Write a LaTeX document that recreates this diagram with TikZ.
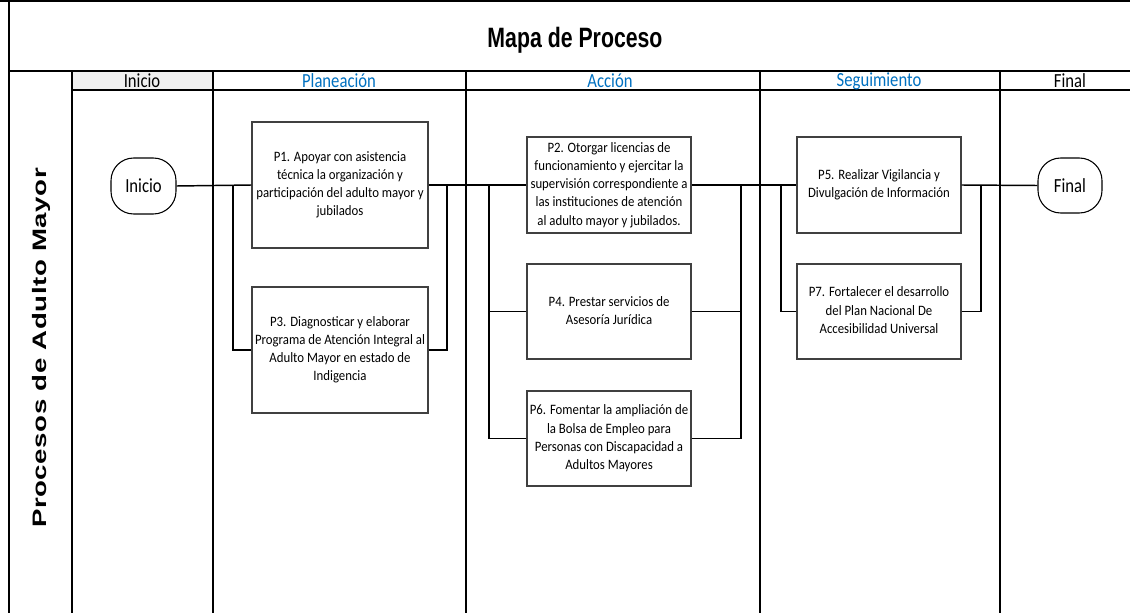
\documentclass[tikz,border=0pt]{standalone}
\usepackage{fontspec}
\setmainfont{Carlito}
\newfontfamily\arialfont{Liberation Sans}
\newfontfamily\arialbls[LetterSpace=2]{Liberation Sans Bold}
\usepackage{graphicx}
\definecolor{hdrblue}{HTML}{0070C0}
\newcommand{\vtxt}[1]{\scalebox{1}[1.12]{\fontsize{9.6}{12.2}\selectfont\begin{tabular}{@{}c@{}}#1\end{tabular}}}
\newcommand{\htxt}[1]{\scalebox{1}[1.2]{\fontsize{12.5}{14}\selectfont #1}}
\tikzset{
  lane/.style={line width=1pt, black},
  procbox/.style={draw=black!75, line width=0.8pt, fill=white, inner sep=0pt, align=center},
  term/.style={draw=black, line width=0.8pt, fill=white, rounded corners=17pt, inner sep=0pt},
  conn/.style={line width=1.1pt, black},
  hdr/.style={inner sep=0pt, anchor=center}
}
\begin{document}
\begin{tikzpicture}[x=0.75pt,y=-0.75pt]
\useasboundingbox (0,0) rectangle (1130,613);
% frame
\fill[gray!12] (72,71) rectangle (213,90);
\draw[line width=2pt] (0,1) -- (1130,1);
\draw[lane] (9,1) -- (9,613);
\draw[line width=1.4pt] (9,71) -- (1130,71);
\draw[lane] (72,90) -- (1130,90);
\foreach \xx in {72,213,466,760,1000} \draw[lane] (\xx,71) -- (\xx,613);
% title and headers
\node[hdr] (title) at (575,40) {\fontsize{21}{24}\selectfont\arialfont\bfseries\scalebox{0.76}[1]{Mapa de Proceso}};
\node[hdr] (hInicio) at (142,81) {\htxt{Inicio}};
\node[hdr, text=hdrblue] (hPlan) at (339,81) {\htxt{Planeación}};
\node[hdr, text=hdrblue] (hAcc) at (610,81) {\htxt{Acción}};
\node[hdr, text=hdrblue] (hSeg) at (879,81) {\htxt{Seguimiento}};
\node[hdr] (hFinal) at (1070,81) {\htxt{Final}};
\node[hdr, rotate=90] (lanelbl) at (41,348) {\scalebox{1.42}[1]{\fontsize{14.6}{17}\selectfont\arialbls Procesos de Adulto Mayor}};
% nodes
\node[term, minimum width=48.75pt, minimum height=42pt] (ini) at (143.5,186) {\htxt{Inicio}};
\node[term, minimum width=48pt, minimum height=41.25pt] (fin) at (1070,185.5) {\htxt{Final}};
\node[procbox, minimum width=132pt, minimum height=94.5pt] (P1) at (340,185) {\vtxt{P1. Apoyar con asistencia\\técnica la organización y\\participación del adulto mayor y\\jubilados}};
\node[procbox, minimum width=132pt, minimum height=94.5pt] (P3) at (340,350) {\vtxt{P3. Diagnosticar y elaborar\\Programa de Atención Integral al\\Adulto Mayor en estado de\\Indigencia}};
\node[procbox, minimum width=123pt, minimum height=72pt] (P2) at (609,185) {\vtxt{P2. Otorgar licencias de\\funcionamiento y ejercitar la\\supervisión correspondiente a\\las instituciones de atención\\al adulto mayor y jubilados.}};
\node[procbox, minimum width=123pt, minimum height=71.25pt] (P4) at (609,311.5) {\vtxt{P4. Prestar servicios de\\Asesoría Jurídica}};
\node[procbox, minimum width=123pt, minimum height=71.25pt] (P6) at (609,438.5) {\vtxt{P6. Fomentar la ampliación de\\la Bolsa de Empleo para\\Personas con Discapacidad a\\Adultos Mayores}};
\node[procbox, minimum width=123pt, minimum height=72pt] (P5) at (879,185) {\vtxt{P5. Realizar Vigilancia y\\Divulgación de Información}};
\node[procbox, minimum width=123pt, minimum height=71.25pt] (P7) at (879,311.5) {\vtxt{P7. Fortalecer el desarrollo\\del Plan Nacional De\\Accesibilidad Universal}};
% junction coordinates
\coordinate (j1) at (233,185);
\coordinate (j2) at (447,185);
\coordinate (j3) at (489,185);
\coordinate (j4) at (741,185);
\coordinate (j5) at (781,185);
\coordinate (j6) at (981,185);
% connectors
\draw[conn] (ini.east) -- (P1.west);
\draw[conn] (P3.west) -| (j1);
\draw[conn] (P1.east) -- (P2.west);
\draw[conn] (P3.east) -| (j2);
\draw[conn] (P4.west) -| (j3);
\draw[conn] (P6.west) -| (j3);
\draw[conn] (P2.east) -- (P5.west);
\draw[conn] (P4.east) -| (j4);
\draw[conn] (P6.east) -| (j4);
\draw[conn] (P7.west) -| (j5);
\draw[conn] (P7.east) -| (j6);
\draw[conn] (P5.east) -- (fin.west);
\end{tikzpicture}
\end{document}
